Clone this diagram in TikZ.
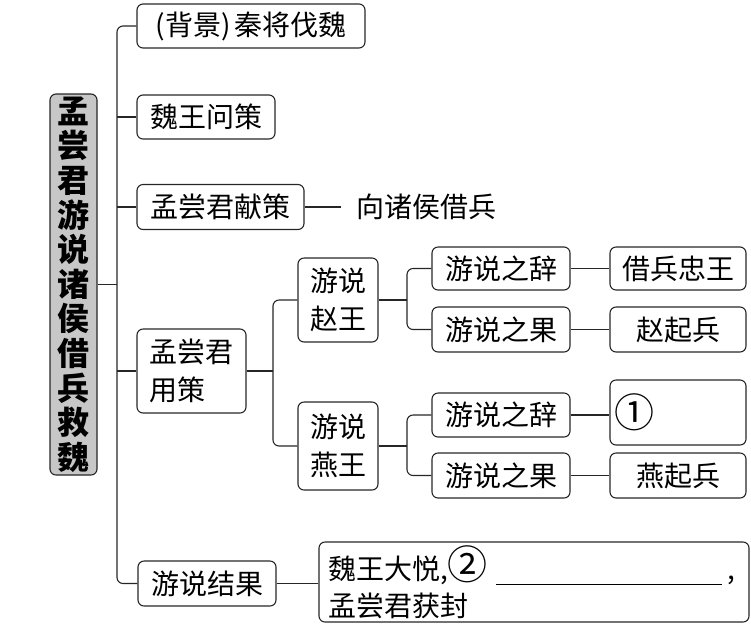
\documentclass[tikz,border=0pt]{standalone}
\usepackage{fontspec}
\setmainfont{Noto Sans CJK SC}
\newcommand{\circnum}[1]{{\fontsize{40}{37}\selectfont #1}}
\begin{document}
\begin{tikzpicture}[x=1pt,y=-1pt,
  box/.style={draw=black!85, line width=1.1pt, rounded corners=6pt, inner sep=0pt,
    font=\fontsize{28}{38}\selectfont, align=center},
  ln/.style={draw=black!85, line width=1.1pt},
  rc/.style={rounded corners=6pt}]
\useasboundingbox (0,0) rectangle (751,625);
% root
\node[box, fill=black!22, minimum width=47pt, minimum height=381pt,
  font=\fontsize{32}{34.6}\selectfont\bfseries] (root) at (73.5,284.5)
  {孟\\尝\\君\\游\\说\\诸\\侯\\借\\兵\\救\\魏};
% level 1
\node[box, minimum width=228pt, minimum height=44pt] (b1) at (251,26) {(背景)\hspace{4pt}秦将伐魏};
\node[box, minimum width=138pt, minimum height=44pt] (b2) at (206,117) {魏王问策};
\node[box, minimum width=167pt, minimum height=45pt] (b3) at (220.5,207) {孟尝君献策};
\node[inner sep=0pt, font=\fontsize{28}{38}\selectfont] (t3) at (426,207) {向诸侯借兵};
\node[box, minimum width=109pt, minimum height=84pt, align=left] (b4) at (191.5,371) {孟尝君\\用策};
\node[box, minimum width=138pt, minimum height=45pt] (b5) at (207,583.5) {游说结果};
\node[box, minimum width=430pt, minimum height=80pt, text width=412pt, align=left,
  font=\fontsize{28}{37}\selectfont] (big) at (534,582)
  {魏王大悦,\circnum{②}\hspace{8pt}\rule[-6pt]{226pt}{1pt}\hspace{6pt},\\孟尝君获封};
% level 2
\node[box, minimum width=80pt, minimum height=84pt] (zhao) at (338,300) {游说\\赵王};
\node[box, minimum width=80pt, minimum height=88pt] (yan) at (338,446) {游说\\燕王};
% level 3
\node[box, minimum width=138pt, minimum height=43pt] (zc) at (501,268.5) {游说之辞};
\node[box, minimum width=138pt, minimum height=45pt] (zg) at (501,329.5) {游说之果};
\node[box, minimum width=138pt, minimum height=44pt] (yc) at (501,415) {游说之辞};
\node[box, minimum width=138pt, minimum height=45pt] (yg) at (501,475.5) {游说之果};
% level 4
\node[box, minimum width=136pt, minimum height=43pt] (zr1) at (678,268.5) {借兵忠王};
\node[box, minimum width=136pt, minimum height=45pt] (zr2) at (678,329.5) {赵起兵};
\node[box, minimum width=136pt, minimum height=65pt, text width=128pt, align=left] (yr1) at (678,412.5) {\circnum{①}};
\node[box, minimum width=136pt, minimum height=45pt] (yr2) at (678,475.5) {燕起兵};
% connectors
\coordinate (sp) at (117,0);
\coordinate (f4) at (273,0);
\coordinate (fz) at (407,0);
\draw[ln,rc] (b1.west) -- (b1.west -| sp) -- (b5.west -| sp) -- (b5.west);
\draw[ln] (root.east) -- (root.east -| sp);
\draw[ln] (b2.west) -- (b2.west -| sp);
\draw[ln] (b3.west) -- (b3.west -| sp);
\draw[ln] (b4.west) -- (b4.west -| sp);
\draw[ln] (b3.east) -- ([xshift=-15pt]t3.west);
\draw[ln] (b5.east) -- (b5.east -| big.west);
\draw[ln] (b4.east) -- (b4.east -| f4);
\draw[ln,rc] (zhao.west) -- (zhao.west -| f4) -- (yan.west -| f4) -- (yan.west);
\draw[ln] (zhao.east) -- (zhao.east -| fz);
\draw[ln,rc] (zc.west) -- (zc.west -| fz) -- (zg.west -| fz) -- (zg.west);
\draw[ln] (yan.east) -- (yan.east -| fz);
\draw[ln,rc] (yc.west) -- (yc.west -| fz) -- (yg.west -| fz) -- (yg.west);
\draw[ln] (zc.east) -- (zr1.west);
\draw[ln] (zg.east) -- (zr2.west);
\draw[ln] (yc.east) -- (yc.east -| yr1.west);
\draw[ln] (yg.east) -- (yr2.west);
\end{tikzpicture}
\end{document}
